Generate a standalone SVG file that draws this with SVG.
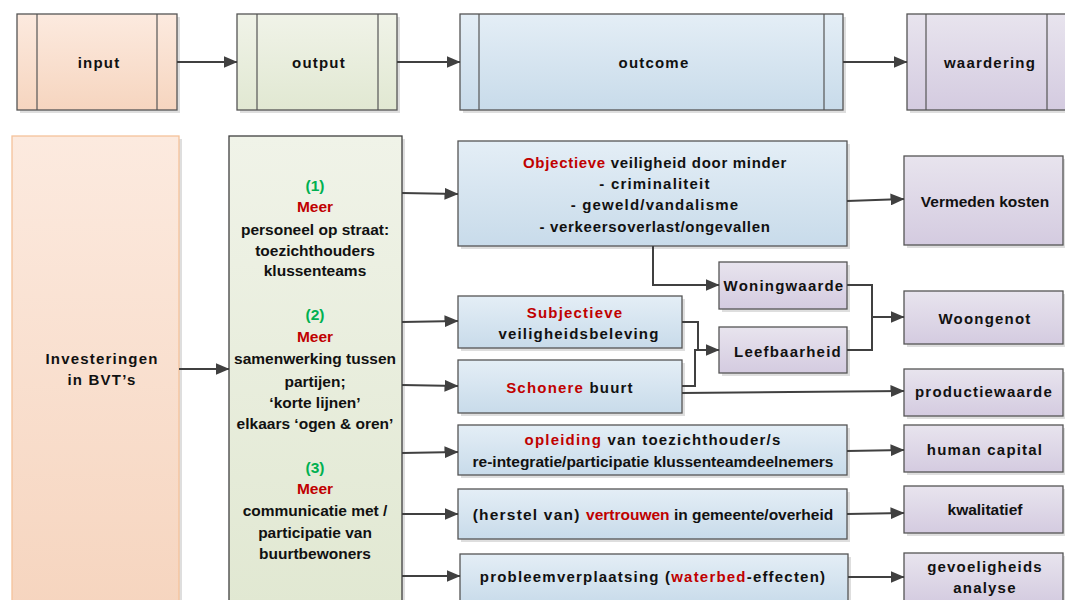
<svg xmlns="http://www.w3.org/2000/svg" width="1065" height="600" viewBox="0 0 1065 600">
<defs>
<linearGradient id="gIn" x1="0" y1="0" x2="0" y2="1"><stop offset="0" stop-color="#FCEADF"/><stop offset="1" stop-color="#F6D5BF"/></linearGradient>
<linearGradient id="gOut" x1="0" y1="0" x2="0" y2="1"><stop offset="0" stop-color="#F0F3E8"/><stop offset="1" stop-color="#E1E8D2"/></linearGradient>
<linearGradient id="gBlue" x1="0" y1="0" x2="0" y2="1"><stop offset="0" stop-color="#E4EEF6"/><stop offset="1" stop-color="#C8DBEA"/></linearGradient>
<linearGradient id="gPurp" x1="0" y1="0" x2="0" y2="1"><stop offset="0" stop-color="#E8E4EE"/><stop offset="1" stop-color="#D4CBE0"/></linearGradient>
<marker id="ah" viewBox="0 0 14 12" markerWidth="14" markerHeight="12" refX="13.5" refY="6" orient="auto" markerUnits="userSpaceOnUse"><path d="M0,0 L14,6 L0,12 Z" fill="#404040"/></marker>
</defs>
<style>
text{font-family:"Liberation Sans",Arial,sans-serif;font-weight:bold;font-size:15px;fill:#111;text-anchor:middle;dominant-baseline:central}
.sp{letter-spacing:1.2px}
.sp2{letter-spacing:0.7px}
.big{font-size:15.5px}
.red{fill:#C00000}
.grn{fill:#00B050}
.box{stroke:#555;stroke-width:1.3}
.sh{fill:#000;opacity:0.13}
.div{stroke:#555;stroke-width:1.2}
.c{fill:none;stroke:#404040;stroke-width:2}
.ca{fill:none;stroke:#404040;stroke-width:2;marker-end:url(#ah)}
</style>

<g id="h-input">
<rect class="sh" x="20" y="17" width="160" height="96"/>
<rect class="box" x="17" y="14" width="160" height="96" fill="url(#gIn)"/>
<line class="div" x1="37" y1="14" x2="37" y2="110"/><line class="div" x1="157" y1="14" x2="157" y2="110"/>
<text class="sp" x="99" y="62">input</text>
</g>
<g id="h-output">
<rect class="sh" x="240" y="17" width="160" height="96"/>
<rect class="box" x="237" y="14" width="160" height="96" fill="url(#gOut)"/>
<line class="div" x1="257" y1="14" x2="257" y2="110"/><line class="div" x1="378" y1="14" x2="378" y2="110"/>
<text class="sp" x="319" y="62">output</text>
</g>
<g id="h-outcome">
<rect class="sh" x="463" y="17" width="383" height="96"/>
<rect class="box" x="460" y="14" width="383" height="96" fill="url(#gBlue)"/>
<line class="div" x1="479" y1="14" x2="479" y2="110"/><line class="div" x1="824" y1="14" x2="824" y2="110"/>
<text class="sp" x="654" y="62">outcome</text>
</g>
<g id="h-waardering">
<rect class="sh" x="910" y="17" width="165" height="96"/>
<rect class="box" x="907" y="14" width="165" height="96" fill="url(#gPurp)"/>
<line class="div" x1="926" y1="14" x2="926" y2="110"/><line class="div" x1="1047" y1="14" x2="1047" y2="110"/>
<text class="sp" x="990" y="62">waardering</text>
</g>

<g id="investeringen">
<rect class="sh" x="15" y="139" width="167" height="470"/>
<rect x="12" y="136" width="167" height="470" fill="url(#gIn)" stroke="#F5C29A" stroke-width="1.3"/>
<text class="sp" x="102" y="358">Investeringen</text>
<text class="sp" x="102" y="379">in BVT’s</text>
</g>

<g id="output-col">
<rect class="sh" x="232" y="139" width="173" height="470"/>
<rect x="229" y="136" width="173" height="470" fill="url(#gOut)" stroke="#3F3F3F" stroke-width="1.3"/>
<text class="grn big" x="315" y="185">(1)</text>
<text class="red big" x="315" y="206">Meer</text>
<text class="big" x="315" y="229">personeel op straat:</text>
<text class="big" x="315" y="250">toezichthouders</text>
<text class="big" x="315" y="270">klussenteams</text>
<text class="grn big" x="315" y="314">(2)</text>
<text class="red big" x="315" y="336">Meer</text>
<text class="big" x="315" y="358">samenwerking tussen</text>
<text class="big" x="315" y="381">partijen;</text>
<text class="big" x="315" y="402">‘korte lijnen’</text>
<text class="big" x="315" y="423">elkaars ‘ogen &amp; oren’</text>
<text class="grn big" x="315" y="467">(3)</text>
<text class="red big" x="315" y="488">Meer</text>
<text class="big" x="315" y="510">communicatie met /</text>
<text class="big" x="315" y="532">participatie van</text>
<text class="big" x="315" y="553">buurtbewoners</text>
</g>

<g id="objectieve">
<rect class="sh" x="461" y="144" width="389" height="105"/>
<rect class="box" x="458" y="141" width="389" height="105" fill="url(#gBlue)"/>
<text class="sp2" x="655" y="162"><tspan class="red">Objectieve</tspan> veiligheid door minder</text>
<text class="sp" x="655" y="183">- criminaliteit</text>
<text class="sp" x="655" y="204">- geweld/vandalisme</text>
<text class="sp2" x="655" y="226">- verkeersoverlast/ongevallen</text>
</g>
<g id="subjectieve">
<rect class="sh" x="461" y="299" width="224" height="52"/>
<rect class="box" x="458" y="296" width="224" height="52" fill="url(#gBlue)"/>
<text class="sp red" x="575" y="312">Subjectieve</text>
<text class="sp" x="579" y="333">veiligheidsbeleving</text>
</g>
<g id="schonere">
<rect class="sh" x="461" y="363" width="224" height="53"/>
<rect class="box" x="458" y="360" width="224" height="53" fill="url(#gBlue)"/>
<text class="sp" x="570" y="387"><tspan class="red">Schonere</tspan> buurt</text>
</g>
<g id="woningwaarde">
<rect class="sh" x="722" y="265" width="128" height="47"/>
<rect class="box" x="719" y="262" width="128" height="47" fill="url(#gPurp)"/>
<text class="sp" x="784" y="285">Woningwaarde</text>
</g>
<g id="leefbaarheid">
<rect class="sh" x="722" y="330" width="128" height="46"/>
<rect class="box" x="719" y="327" width="128" height="46" fill="url(#gPurp)"/>
<text class="sp" x="788" y="351">Leefbaarheid</text>
</g>
<g id="opleiding">
<rect class="sh" x="461" y="428" width="389" height="50"/>
<rect class="box" x="458" y="425" width="389" height="50" fill="url(#gBlue)"/>
<text class="sp" x="653" y="439"><tspan class="red">opleiding</tspan> van toezichthouder/s</text>
<text class="big" x="653" y="461">re-integratie/participatie klussenteamdeelnemers</text>
</g>
<g id="herstel">
<rect class="sh" x="461" y="492" width="389" height="50"/>
<rect class="box" x="458" y="489" width="389" height="50" fill="url(#gBlue)"/>
<text class="big" x="653" y="514"><tspan letter-spacing="1.2">(herstel van) </tspan><tspan class="red">vertrouwen</tspan> in gemeente/overheid</text>
</g>
<g id="probleem">
<rect class="sh" x="463" y="557" width="388" height="50"/>
<rect class="box" x="460" y="554" width="388" height="50" fill="url(#gBlue)"/>
<text class="sp" x="653" y="576">probleemverplaatsing (<tspan class="red">waterbed</tspan>-effecten)</text>
</g>

<g id="vermeden">
<rect class="sh" x="907" y="159" width="159" height="89"/>
<rect class="box" x="904" y="156" width="159" height="89" fill="url(#gPurp)"/>
<text class="big" x="985" y="201">Vermeden kosten</text>
</g>
<g id="woongenot">
<rect class="sh" x="907" y="294" width="159" height="53"/>
<rect class="box" x="904" y="291" width="159" height="53" fill="url(#gPurp)"/>
<text class="sp" x="985" y="318">Woongenot</text>
</g>
<g id="productiewaarde">
<rect class="sh" x="907" y="372" width="159" height="47"/>
<rect class="box" x="904" y="369" width="159" height="47" fill="url(#gPurp)"/>
<text class="sp" x="984" y="391">productiewaarde</text>
</g>
<g id="humancapital">
<rect class="sh" x="907" y="428" width="159" height="47"/>
<rect class="box" x="904" y="425" width="159" height="47" fill="url(#gPurp)"/>
<text class="sp" x="985" y="449">human capital</text>
</g>
<g id="kwalitatief">
<rect class="sh" x="907" y="489" width="159" height="47"/>
<rect class="box" x="904" y="486" width="159" height="47" fill="url(#gPurp)"/>
<text class="big" x="985" y="509">kwalitatief</text>
</g>
<g id="gevoeligheid">
<rect class="sh" x="907" y="556" width="159" height="50"/>
<rect class="box" x="904" y="553" width="159" height="50" fill="url(#gPurp)"/>
<text class="sp" x="985" y="566">gevoeligheids</text>
<text class="sp" x="985" y="587">analyse</text>
</g>

<g id="connectors">
<line class="ca" x1="177" y1="62" x2="237" y2="62"/>
<line class="ca" x1="397" y1="62" x2="460" y2="62"/>
<line class="ca" x1="843" y1="62" x2="907" y2="62"/>
<line class="ca" x1="179" y1="369" x2="229" y2="369"/>
<line class="ca" x1="402" y1="193" x2="458" y2="194"/>
<line class="ca" x1="402" y1="322" x2="458" y2="321"/>
<line class="ca" x1="402" y1="385" x2="458" y2="386"/>
<line class="ca" x1="402" y1="453" x2="458" y2="452"/>
<line class="ca" x1="402" y1="514" x2="458" y2="514"/>
<line class="ca" x1="402" y1="576" x2="460" y2="576"/>
<line class="ca" x1="847" y1="201" x2="904" y2="199"/>
<polyline class="ca" points="653,246 653,285 719,285"/>
<polyline class="ca" points="682,322 698,322 698,350 719,350"/>
<polyline class="c" points="682,386 695,386 695,350 698,350"/>
<polyline class="c" points="847,285 872,285 872,350 847,350"/>
<line class="ca" x1="872" y1="317" x2="904" y2="317"/>
<line class="ca" x1="682" y1="393" x2="904" y2="391"/>
<line class="ca" x1="847" y1="451" x2="904" y2="450"/>
<line class="ca" x1="847" y1="514" x2="904" y2="513"/>
<line class="ca" x1="848" y1="577" x2="904" y2="577"/>
</g>
</svg>
